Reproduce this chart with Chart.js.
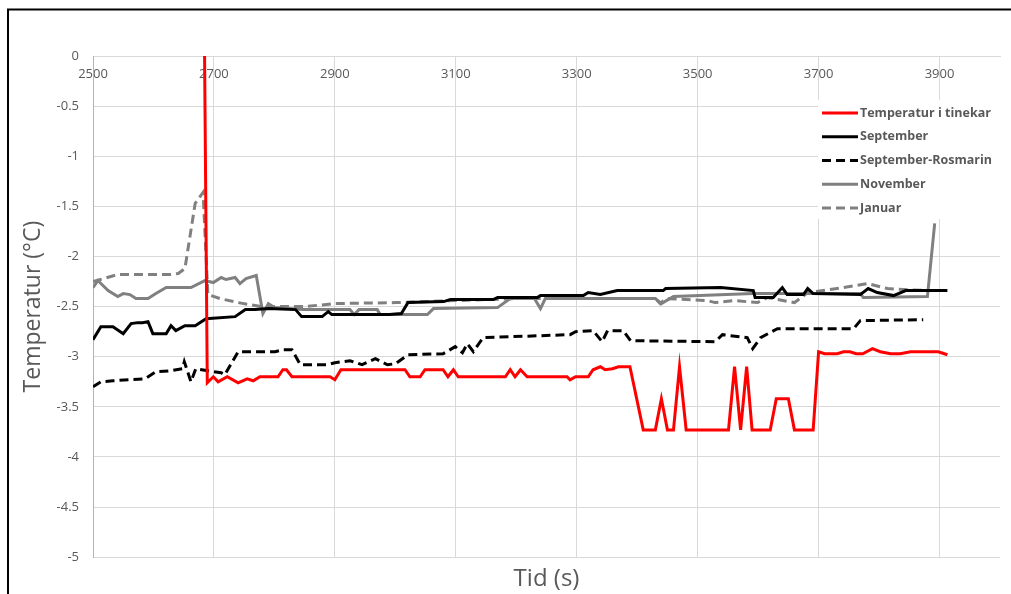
<!DOCTYPE html>
<html>
<head>
<meta charset="utf-8">
<script src="https://cdn.jsdelivr.net/npm/chart.js@4/dist/chart.umd.min.js"></script>
<style>
  html, body { margin: 0; padding: 0; background: #fff; }
  #wrap { width: 1011px; height: 594px; position: relative; }
</style>
</head>
<body>
<div id="wrap"><canvas id="tempChart"></canvas></div>
<script>
// x tick positions (seconds) and y range
const xTicks = [2500, 2700, 2900, 3100, 3300, 3500, 3700, 3900];

// Temperatur i tinekar
const tinekarTid = [2680, 2689, 2699, 2707, 2722, 2740, 2755, 2765, 2776, 2806, 2814, 2820, 2829, 2892, 2900, 2910,
  3016, 3024, 3041, 3049, 3079, 3087, 3096, 3104, 3182, 3190, 3198, 3207, 3218, 3284, 3289, 3298, 3319, 3327,
  3339, 3347, 3359, 3369, 3388, 3410, 3430, 3440, 3450, 3460, 3470, 3481, 3551, 3561, 3571, 3581, 3590, 3620,
  3630, 3650, 3660, 3691, 3700, 3710, 3731, 3741, 3752, 3762, 3773, 3789, 3802, 3819, 3835, 3852, 3898, 3913];
const tinekarTemp = [3.3, -3.26, -3.2, -3.25, -3.2, -3.26, -3.22, -3.24, -3.2, -3.2, -3.13, -3.13, -3.2, -3.2, -3.23, -3.13,
  -3.13, -3.2, -3.2, -3.13, -3.13, -3.2, -3.13, -3.2, -3.2, -3.13, -3.2, -3.13, -3.2, -3.2, -3.23, -3.2, -3.2, -3.13,
  -3.1, -3.13, -3.12, -3.1, -3.1, -3.73, -3.73, -3.42, -3.73, -3.73, -3.1, -3.73, -3.73, -3.1, -3.73, -3.1, -3.73, -3.73,
  -3.42, -3.42, -3.73, -3.73, -2.95, -2.97, -2.97, -2.95, -2.95, -2.97, -2.97, -2.92, -2.95, -2.97, -2.97, -2.95, -2.95, -2.98];

// September
const septTid = [2500, 2513, 2533, 2550, 2563, 2574, 2582, 2591, 2599, 2621, 2629, 2637, 2652, 2669, 2687, 2735, 2752,
  2768, 2790, 2835, 2845, 2879, 2889, 2895, 2990, 3010, 3021, 3080, 3091, 3162, 3169, 3235, 3240, 3311, 3319, 3339,
  3367, 3443, 3447, 3538, 3592, 3595, 3625, 3640, 3648, 3675, 3682, 3691, 3769, 3782, 3797, 3824, 3844, 3913];
const septTemp = [-2.83, -2.7, -2.7, -2.77, -2.67, -2.66, -2.66, -2.65, -2.77, -2.77, -2.69, -2.74, -2.69, -2.69, -2.62, -2.6, -2.53,
  -2.53, -2.52, -2.53, -2.6, -2.6, -2.55, -2.58, -2.58, -2.57, -2.46, -2.45, -2.43, -2.43, -2.41, -2.41, -2.39, -2.39, -2.36, -2.38,
  -2.34, -2.34, -2.32, -2.31, -2.34, -2.41, -2.41, -2.31, -2.38, -2.38, -2.32, -2.37, -2.38, -2.32, -2.36, -2.39, -2.34, -2.34];

// September-Rosmarin
const rosmarinTid = [2500, 2513, 2533, 2586, 2604, 2629, 2648, 2651, 2662, 2670, 2690, 2712, 2718, 2740, 2801, 2814,
  2829, 2843, 2887, 2900, 2925, 2945, 2967, 2987, 3000, 3021, 3079, 3099, 3111, 3119, 3129, 3145, 3289, 3298, 3327,
  3342, 3351, 3377, 3389, 3529, 3541, 3582, 3591, 3604, 3632, 3758, 3769, 3873];
const rosmarinTemp = [-3.3, -3.25, -3.24, -3.22, -3.15, -3.14, -3.12, -3.05, -3.25, -3.12, -3.14, -3.16, -3.18, -2.95, -2.95, -2.93,
  -2.93, -3.08, -3.08, -3.06, -3.04, -3.08, -3.02, -3.08, -3.07, -2.98, -2.97, -2.9, -2.96, -2.87, -2.95, -2.81, -2.78, -2.75, -2.74,
  -2.85, -2.74, -2.74, -2.84, -2.85, -2.78, -2.81, -2.92, -2.81, -2.72, -2.72, -2.64, -2.63];

// November
const novTid = [2500, 2508, 2525, 2541, 2550, 2561, 2571, 2591, 2604, 2621, 2662, 2685, 2699, 2712, 2720, 2735, 2743,
  2753, 2770, 2781, 2790, 2800, 2848, 2925, 2932, 2940, 2970, 2975, 3053, 3063, 3169, 3190, 3230, 3240, 3248, 3430,
  3440, 3460, 3592, 3769, 3774, 3880, 3892];
const novTemp = [-2.31, -2.24, -2.34, -2.4, -2.37, -2.38, -2.42, -2.42, -2.37, -2.31, -2.31, -2.24, -2.26, -2.21, -2.23, -2.21, -2.27,
  -2.22, -2.19, -2.57, -2.47, -2.51, -2.53, -2.53, -2.58, -2.53, -2.53, -2.58, -2.58, -2.52, -2.51, -2.42, -2.42, -2.52, -2.42, -2.42,
  -2.47, -2.4, -2.37, -2.37, -2.41, -2.4, -1.67];

// Januar
const janTid = [2500, 2541, 2629, 2641, 2652, 2669, 2682, 2690, 2710, 2740, 2778, 2850, 2900, 3000, 3100, 3200, 3430,
  3438, 3447, 3516, 3529, 3560, 3599, 3615, 3660, 3682, 3741, 3781, 3814, 3877];
const janTemp = [-2.25, -2.18, -2.18, -2.17, -2.12, -1.47, -1.36, -2.38, -2.42, -2.46, -2.5, -2.5, -2.47, -2.46, -2.44, -2.42, -2.42,
  -2.47, -2.42, -2.44, -2.46, -2.44, -2.46, -2.41, -2.46, -2.36, -2.31, -2.27, -2.32, -2.34];

const pts = (tid, temp) => tid.map((t, i) => ({ x: t, y: temp[i] }));

const gridColor = "#d9d9d9";
const textColor = "#595959";

// white box with line samples over the upper right part of the plot
const legendBox = {
  id: "legendBox",
  afterDatasetsDraw(chart) {
    const ctx = chart.ctx;
    const area = chart.chartArea;
    const x0 = area.right - 182;
    const y0 = area.top + 44;
    ctx.save();
    ctx.fillStyle = "#fff";
    ctx.fillRect(x0, y0, area.right - x0, 119);
    ctx.font = 'bold 12.5px "Open Sans"';
    ctx.textBaseline = "middle";
    chart.data.datasets.forEach((ds, i) => {
      const y = y0 + 13 + i * 23.75;
      ctx.strokeStyle = ds.borderColor;
      ctx.lineWidth = 3;
      ctx.setLineDash(ds.borderDash || []);
      ctx.beginPath();
      ctx.moveTo(x0 + 4, y);
      ctx.lineTo(x0 + 40, y);
      ctx.stroke();
      ctx.setLineDash([]);
      ctx.fillStyle = textColor;
      ctx.fillText(ds.label, x0 + 42, y);
    });
    ctx.restore();
  },
};

// background and the frame lines
const frame = {
  id: "frame",
  beforeDraw(chart) {
    const ctx = chart.ctx;
    ctx.save();
    ctx.fillStyle = "#fff";
    ctx.fillRect(0, 0, chart.width, chart.height);
    ctx.strokeStyle = "#000";
    ctx.lineWidth = 2;
    ctx.beginPath();
    ctx.moveTo(8, chart.height);
    ctx.lineTo(8, 9.5);
    ctx.lineTo(chart.width, 9.5);
    ctx.stroke();
    ctx.restore();
  },
};

const lineStyle = { borderWidth: 3, pointRadius: 0, tension: 0, fill: false };

new Chart(document.getElementById("tempChart"), {
  type: "line",
  data: {
    datasets: [
      { label: "Temperatur i tinekar", data: pts(tinekarTid, tinekarTemp), borderColor: "#ff0000", ...lineStyle },
      { label: "September", data: pts(septTid, septTemp), borderColor: "#000000", ...lineStyle },
      { label: "September-Rosmarin", data: pts(rosmarinTid, rosmarinTemp), borderColor: "#000000", borderDash: [9, 5], ...lineStyle },
      { label: "November", data: pts(novTid, novTemp), borderColor: "#808080", ...lineStyle },
      { label: "Januar", data: pts(janTid, janTemp), borderColor: "#808080", borderDash: [9, 5], ...lineStyle },
    ],
  },
  options: {
    responsive: true,
    maintainAspectRatio: false,
    animation: false,
    layout: { padding: { left: 10, top: 56, right: 11, bottom: 0 } },
    plugins: {
      legend: { display: false },
      tooltip: { enabled: false },
      title: {
        display: true,
        position: "bottom",
        fullSize: false,
        text: "Tid (s)",
        color: textColor,
        font: { family: "Open Sans", size: 24, weight: "normal" },
        padding: { top: 8, bottom: 0 },
      },
    },
    scales: {
      x: {
        type: "linear",
        position: { y: 0 },
        min: 2500,
        max: 4000,
        afterBuildTicks: (s) => { s.ticks = xTicks.map((v) => ({ value: v })); },
        grid: { color: gridColor, drawTicks: false },
        border: { color: gridColor },
        ticks: { color: textColor, font: { family: "Open Sans", size: 13 }, padding: 10, maxRotation: 0, callback: (v) => String(v) },
      },
      y: {
        min: -5,
        max: 0,
        afterFit: (s) => { s.width = 83; },
        grid: { color: gridColor, drawTicks: false },
        border: { color: "#b3b3b3" },
        ticks: { stepSize: 0.5, color: textColor, font: { family: "Open Sans", size: 13 }, padding: 14, callback: (v) => String(v) },
        title: {
          display: true,
          text: "Temperatur (°C)",
          color: textColor,
          font: { family: "Open Sans", size: 23, weight: "normal" },
          padding: { top: 10, bottom: 0 },
        },
      },
    },
  },
  plugins: [frame, legendBox],
});
</script>
</body>
</html>
